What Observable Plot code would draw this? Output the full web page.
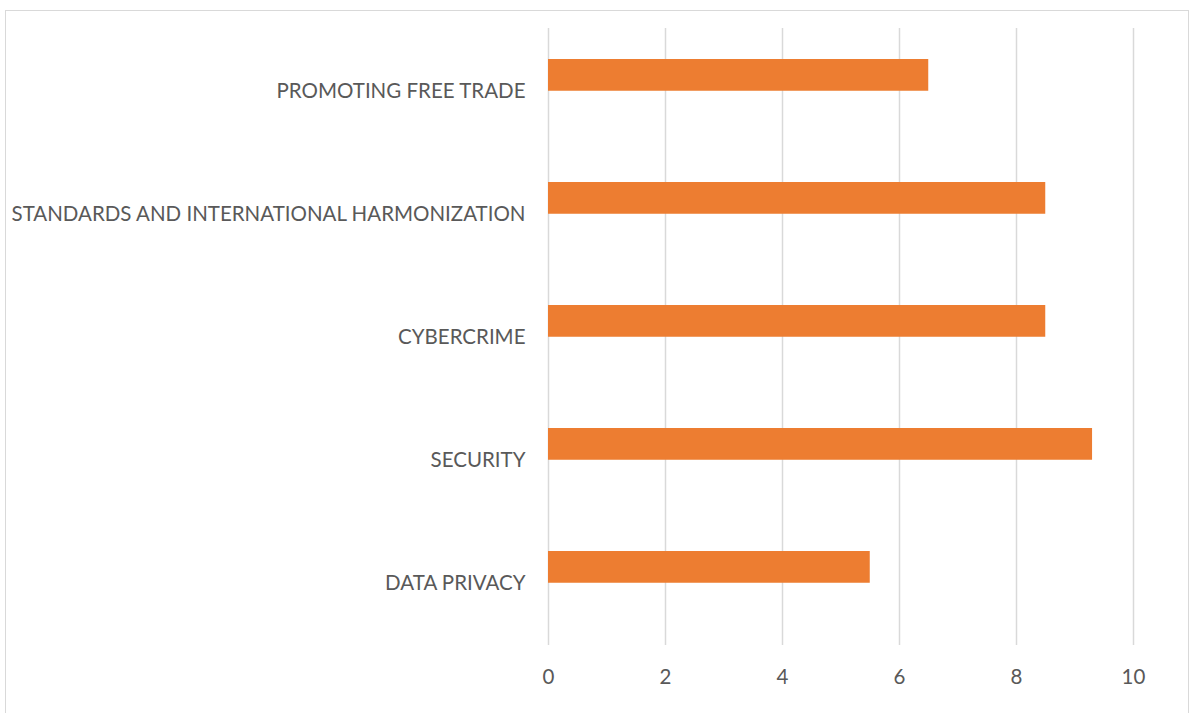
<!DOCTYPE html>
<html>
<head>
<meta charset="utf-8">
<script src="https://cdn.jsdelivr.net/npm/d3@7"></script>
<script src="https://cdn.jsdelivr.net/npm/@observablehq/plot@0.6"></script>
<style>
  html, body { margin: 0; padding: 0; background: #fff; }
  #wrap { position: relative; width: 1190px; height: 713px; overflow: hidden; }
  #frame { position: absolute; left: 5px; top: 10px; width: 1184px; height: 720px; border: 1.5px solid #d9d9d9; box-sizing: border-box; }
  #chart { position: absolute; left: 0; top: 0; }
</style>
</head>
<body>
<div id="wrap">
  <div id="frame"></div>
  <div id="chart"></div>
</div>
<script>
const categories = [
  "PROMOTING FREE TRADE",
  "STANDARDS AND INTERNATIONAL HARMONIZATION",
  "CYBERCRIME",
  "SECURITY",
  "DATA PRIVACY"
];
const values = [6.5, 8.5, 8.5, 9.3, 5.5];
const xTicks = [0, 2, 4, 6, 8, 10];

const data = categories.map((c, i) => ({category: c, value: values[i]}));

const chart = Plot.plot({
  width: 1190,
  height: 713,
  marginLeft: 548,
  marginRight: 57,
  marginTop: 28,
  marginBottom: 68,
  style: {fontFamily: "Lato, 'Open Sans', sans-serif", fontSize: "20.5px", color: "#595959", background: "transparent"},
  x: {domain: [0, 10], ticks: xTicks, label: null},
  y: {domain: categories, padding: 0, label: null},
  marks: [
    Plot.gridX(xTicks, {stroke: "#d9d9d9", strokeOpacity: 1, strokeWidth: 1.5}),
    Plot.barX(data, {x: "value", y: "category", fill: "#ED7D31", insetTop: 30, insetBottom: 61.25}),
    Plot.axisX(xTicks, {tickSize: 0, tickPadding: 24, fontSize: 20.5, fill: "#595959", label: null}),
    Plot.axisY({tickSize: 0, tickPadding: 23, fontSize: 20.5, fill: "#595959", label: null})
  ]
});
document.getElementById("chart").appendChild(chart);
</script>
</body>
</html>
